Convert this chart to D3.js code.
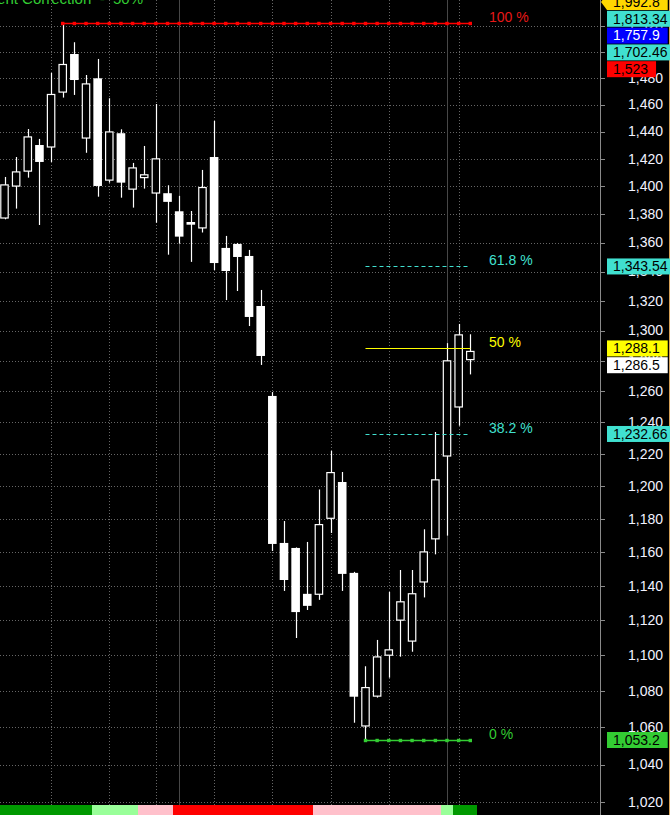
<!DOCTYPE html>
<html><head><meta charset="utf-8">
<script src="https://cdn.jsdelivr.net/npm/d3@7"></script>
<style>html,body{margin:0;padding:0;background:#000;overflow:hidden}svg{display:block}</style>
</head><body><svg id="c" width="670" height="815"></svg>
<script>
// ---- data ----
const opens  = [1377.0,1399.8,1410.6,1430.1,1428.2,1469.1,1498.6,1434.8,1480.0,1404.1,1438.8,1397.6,1405.9,1394.8,1395.1,1382.2,1374.6,1370.0,1421.3,1356.4,1359.2,1350.8,1316.5,1257.0,1165.5,1162.5,1135.4,1134.8,1180.0,1202.6,1147.7,1060.5,1076.9,1099.8,1119.8,1107.8,1142.0,1167.6,1218.4,1249.5,1280.3];
const highs  = [1406.8,1421.3,1441.9,1434.6,1484.1,1523.0,1507.7,1482.5,1494.8,1464.9,1441.7,1417.0,1429.4,1460.6,1400.8,1393.2,1382.4,1411.9,1447.9,1364.8,1359.9,1355.0,1327.4,1259.5,1178.7,1162.8,1166.1,1198.0,1222.0,1208.8,1148.3,1093.9,1108.8,1136.5,1149.4,1149.4,1173.7,1233.9,1291.6,1304.4,1297.5];
const lows   = [1376.5,1384.1,1406.3,1372.5,1417.7,1465.4,1467.4,1424.4,1392.6,1402.7,1391.9,1384.8,1398.4,1374.1,1351.7,1359.4,1346.7,1367.2,1341.1,1320.5,1326.7,1303.0,1277.2,1160.7,1137.1,1109.9,1126.0,1131.9,1171.5,1137.1,1062.6,1053.2,1076.4,1087.5,1099.3,1102.1,1133.3,1158.7,1169.9,1237.9,1271.0];
const closes = [1401.5,1410.9,1436.5,1417.7,1468.2,1491.0,1478.7,1476.2,1400.3,1440.2,1402.7,1413.8,1408.8,1420.4,1388.9,1364.3,1372.7,1399.6,1345.9,1340.4,1350.1,1309.1,1283.1,1164.9,1143.5,1124.8,1128.4,1176.9,1208.8,1147.1,1076.9,1082.3,1099.5,1103.5,1131.1,1135.8,1160.5,1204.3,1280.3,1297.5,1286.5];
// trend state per bar: 2 strong up, 1 up, -1 down, -2 strong down
const trendState = [2,2,2,2,2,2,2,2,1,1,1,1,-1,-1,-1,-2,-2,-2,-2,-2,-2,-2,-2,-2,-2,-2,-2,-1,-1,-1,-1,-1,-1,-1,-1,-1,-1,-1,1,2,2];
const weekBars  = [4,9,13,18,23,28,33,39];
const monthBars = [15,38];
const yTicks = [1020,1040,1060,1080,1100,1120,1140,1160,1180,1200,1220,1240,1260,1280,1300,1320,1340,1360,1380,1400,1420,1440,1460,1480,1500,1520];
// Fibonacci
const fibLow = 1053.2, fibHigh = 1523;
const fibLowBar = 31, fibHighBar = 5, lastBar = 40;
const fibLevels = [0, 0.382, 0.5, 0.618, 1];
const fibLabels = ["0 %","38.2 %","50 %","61.8 %","100 %"];
const extLevels = [2, 1.618, 1.5, 1.382];
const lastPrice = 1286.5;
const titleText = "Current Correction  -  50%";

// ---- render ----
const W = 670, H = 815;
const svg = d3.select("#c");
svg.append("rect").attr("width",W).attr("height",H).attr("fill","#000");
const x = d3.scaleLinear().domain([0,40]).range([4.5,470.3]);
const y = d3.scaleLog().domain([1020,1500]).range([802.3,52.2]);
const step = x(1)-x(0);
const fmt = d3.format(",");
const r2 = v => Math.round(v*100)/100;

// gridlines
const g = svg.append("g");
g.selectAll("line.h").data(yTicks).join("line")
  .attr("x1",0).attr("x2",598).attr("y1",d=>Math.round(y(d))+0.5).attr("y2",d=>Math.round(y(d))+0.5)
  .attr("stroke","#666").attr("stroke-dasharray","1,2");
g.selectAll("line.v").data(weekBars).join("line")
  .attr("x1",d=>Math.round(x(d))+0.5).attr("x2",d=>Math.round(x(d))+0.5).attr("y1",0).attr("y2",805)
  .attr("stroke","#666").attr("stroke-dasharray","1,2");
g.selectAll("line.m").data(monthBars).join("line")
  .attr("x1",d=>Math.round(x(d))+0.5).attr("x2",d=>Math.round(x(d))+0.5).attr("y1",0).attr("y2",805)
  .attr("stroke","#474747").attr("stroke-width",1);

// candles
const bars = d3.range(opens.length).map(i=>({i,o:opens[i],h:highs[i],l:lows[i],c:closes[i]}));
const cg = svg.append("g");
cg.selectAll("line").data(bars).join("line")
  .attr("x1",d=>Math.round(x(d.i))+0.5).attr("x2",d=>Math.round(x(d.i))+0.5)
  .attr("y1",d=>y(d.h)).attr("y2",d=>y(d.l)).attr("stroke","#fff").attr("stroke-width",1.2);
cg.selectAll("rect").data(bars).join("rect")
  .attr("x",d=>d.c>=d.o ? x(d.i)-3.7 : x(d.i)-4.3)
  .attr("width",d=>d.c>=d.o ? 7.4 : 8.6)
  .attr("y",d=>y(Math.max(d.o,d.c)) + (d.c>=d.o?0.6:0))
  .attr("height",d=>Math.max(1.5, Math.abs(y(d.o)-y(d.c)) - (d.c>=d.o?1.2:0)))
  .attr("fill",d=>d.c>=d.o ? "#000" : "#fff")
  .attr("stroke",d=>d.c>=d.o ? "#fff" : "none").attr("stroke-width",1.2);

// fibonacci lines
const fibVal = f => fibLow + f*(fibHigh-fibLow);
const fibStyle = {0:{c:"#33cc33",dash:null,marks:true},0.382:{c:"#40e0d0",dash:"4,3"},0.5:{c:"#ffff00",dash:null},0.618:{c:"#40e0d0",dash:"4,3"},1:{c:"#ff0000",dash:null,marks:true}};
const fg = svg.append("g");
fibLevels.forEach((f,k)=>{
  const st = fibStyle[f];
  const start = f===1 ? fibHighBar : fibLowBar;
  const yy = Math.round(y(fibVal(f)))+0.5;
  fg.append("line").attr("x1",x(start)).attr("x2",x(lastBar)).attr("y1",yy).attr("y2",yy)
    .attr("stroke",st.c).attr("stroke-width",f===1||f===0?1.5:1).attr("stroke-dasharray",st.dash);
  if (st.marks) {
    fg.selectAll(null).data(d3.range(start,lastBar+1)).join("rect")
      .attr("x",d=>x(d)-1.7).attr("y",yy-1.7).attr("width",3.4).attr("height",3.4).attr("fill",st.c);
  }
  fg.append("text").attr("x",489).attr("y",yy-5).attr("dominant-baseline","middle")
    .attr("font-family","Liberation Sans, Arial, sans-serif").attr("font-size",14)
    .attr("fill",st.c==="#ff0000"?"#e81818":st.c).text(fibLabels[k]);
});

// right axis
const ax = svg.append("g");
ax.append("line").attr("x1",600.5).attr("x2",600.5).attr("y1",0).attr("y2",H).attr("stroke","#8a8a8a");
ax.append("line").attr("x1",669.5).attr("x2",669.5).attr("y1",0).attr("y2",H).attr("stroke","#d9a45a");
ax.selectAll("line.t").data(yTicks).join("line")
  .attr("x1",600).attr("x2",605).attr("y1",d=>Math.round(y(d))+0.5).attr("y2",d=>Math.round(y(d))+0.5).attr("stroke","#8a8a8a");
ax.selectAll("text").data(yTicks).join("text")
  .attr("x",663).attr("y",d=>y(d)+1).attr("text-anchor","end").attr("dominant-baseline","middle")
  .attr("font-family","Liberation Sans, Arial, sans-serif").attr("font-size",14).attr("fill","#f2f2ff")
  .text(d=>fmt(d));

// price boxes (stacked to avoid overlap)
const boxes = [
  ...extLevels.map((f,k)=>({v:r2(fibVal(f)), bg: f===2?"#ffd700":(f===1.5?"#0000ff":"#40e0d0"), fg: f===1.5?"#fff":"#000", arrow: f===2})),
  {v:fibHigh,bg:"#ff0000",fg:"#000"},
  {v:r2(fibVal(0.618)),bg:"#40e0d0",fg:"#000"},
  {v:r2(fibVal(0.5)),bg:"#ffff00",fg:"#000"},
  {v:lastPrice,bg:"#ffffff",fg:"#000"},
  {v:r2(fibVal(0.382)),bg:"#40e0d0",fg:"#000"},
  {v:fibLow,bg:"#33cc33",fg:"#000"}
].sort((a,b)=>b.v-a.v);
let prev = -Infinity;
const bh = 16.8;
boxes.forEach(b=>{ let cy = Math.max(2, y(b.v)); cy = Math.max(cy, prev+bh); b.cy = cy; prev = cy; });
const pb = svg.append("g");
boxes.forEach(b=>{
  const grp = pb.append("g");
  const r = grp.append("rect").attr("x",607).attr("y",b.cy-8).attr("height",16).attr("fill",b.bg);
  const t = grp.append("text").attr("x",613).attr("y",b.cy+1).attr("dominant-baseline","middle")
    .attr("font-family","Liberation Sans, Arial, sans-serif").attr("font-size",14).attr("fill",b.fg).text(fmt(b.v));
  const w = t.node().getComputedTextLength()+14;
  r.attr("width",w);
  if (b.arrow) grp.insert("path","text").attr("d",`M601,${b.cy} L607,${b.cy-8} L607,${b.cy+8} Z`).attr("fill",b.bg);
});

// title
svg.append("text").attr("x",143).attr("y",4).attr("text-anchor","end").style("white-space","pre")
  .attr("font-family","Liberation Sans, Arial, sans-serif").attr("font-size",15).attr("fill","#33cc33").text(titleText);

// trend strip
const stripColor = {2:"#009900",1:"#99ff99","-1":"#ffc0cb","-2":"#ff0000"};
svg.append("g").attr("shape-rendering","crispEdges").selectAll("rect").data(trendState).join("rect")
  .attr("x",(d,i)=>Math.round(x(i)-step/2)).attr("width",(d,i)=>Math.round(x(i)+step/2)-Math.round(x(i)-step/2)+1).attr("y",805).attr("height",10)
  .attr("fill",d=>stripColor[d]);
</script></body></html>
